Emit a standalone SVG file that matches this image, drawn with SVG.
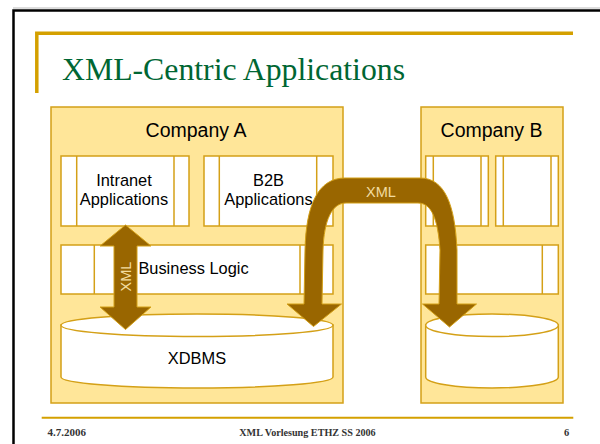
<svg xmlns="http://www.w3.org/2000/svg" width="600" height="444" viewBox="0 0 600 444">
<style>
.box{fill:#FFE699;stroke:#D4A017;stroke-width:1.5}
.pan{fill:#FFFFFF;stroke:#D4A017;stroke-width:1.5}
.ln{stroke:#D4A017;stroke-width:1.5;fill:none}
.lbl{font-family:"Liberation Sans",Arial,sans-serif;font-size:16.4px;fill:#000;text-anchor:middle}
.co{font-family:"Liberation Sans",Arial,sans-serif;font-size:19.5px;fill:#000;text-anchor:middle}
.arr{fill:#996600;stroke:#D4A017;stroke-width:1}
.al{font-family:"Liberation Sans",Arial,sans-serif;font-size:14.5px;fill:#F2DCA0;text-anchor:middle}
.ft{font-family:"Liberation Serif","Times New Roman",serif;font-size:10.5px;font-weight:bold;fill:#333}
</style>
<rect width="600" height="444" fill="#FFFFFF"/>
<g id="frame">
<line x1="13" y1="8" x2="600" y2="8" stroke="#BBBBBB" stroke-width="1"/>
<rect x="13.5" y="10.5" width="700" height="500" fill="none" stroke="#000" stroke-width="2.5"/>
<polyline points="36.8,93 36.8,33.2 573,33.2" fill="none" stroke="#D4A000" stroke-width="3.5"/>
<text x="62" y="80" font-family="'Liberation Serif','Times New Roman',serif" font-size="32" fill="#006633" textLength="343" lengthAdjust="spacingAndGlyphs">XML-Centric Applications</text>
<line x1="41.7" y1="417.7" x2="573.3" y2="417.7" stroke="#D4A000" stroke-width="2"/>
<text class="ft" x="47.5" y="436" textLength="38.5" lengthAdjust="spacingAndGlyphs">4.7.2006</text>
<text class="ft" x="239.3" y="436" textLength="136.4" lengthAdjust="spacingAndGlyphs">XML Vorlesung ETHZ SS 2006</text>
<text class="ft" x="564" y="436">6</text>
</g>
<g id="companyA">
<rect class="box" x="51" y="107" width="292" height="296"/>
<text class="co" x="196" y="137">Company A</text>
</g>
<g id="intranet">
<rect class="pan" x="61" y="156" width="128" height="70"/>
<line class="ln" x1="76.7" y1="156" x2="76.7" y2="226"/>
<line class="ln" x1="174" y1="156" x2="174" y2="226"/>
<text class="lbl" x="124" y="186">Intranet</text>
<text class="lbl" x="124" y="205">Applications</text>
</g>
<g id="b2b">
<rect class="pan" x="204" y="156" width="129" height="70"/>
<line class="ln" x1="219.3" y1="156" x2="219.3" y2="226"/>
<line class="ln" x1="316.7" y1="156" x2="316.7" y2="226"/>
<text class="lbl" x="268.5" y="186">B2B</text>
<text class="lbl" x="268.5" y="205">Applications</text>
</g>
<g id="businessLogic">
<rect class="pan" x="61" y="245" width="272" height="49"/>
<line class="ln" x1="94.3" y1="245" x2="94.3" y2="294"/>
<line class="ln" x1="300" y1="245" x2="300" y2="294"/>
<text class="lbl" x="193.5" y="274.3">Business Logic</text>
</g>
<g id="xdbms">
<path class="pan" d="M61,325 L61,377 A136,11 0 0 0 333,377 L333,325 Z"/>
<ellipse class="pan" cx="197" cy="325.3" rx="136" ry="11.3"/>
<text class="lbl" x="197" y="364">XDBMS</text>
</g>
<g id="companyB">
<rect class="box" x="421" y="107" width="142" height="296"/>
<text class="co" x="491.5" y="137">Company B</text>
</g>
<g id="bApp1">
<rect class="pan" x="425.7" y="156" width="62.6" height="70"/>
<line class="ln" x1="433.3" y1="156" x2="433.3" y2="226"/>
<line class="ln" x1="481" y1="156" x2="481" y2="226"/>
</g>
<g id="bApp2">
<rect class="pan" x="495.7" y="156" width="62.6" height="70"/>
<line class="ln" x1="503.3" y1="156" x2="503.3" y2="226"/>
<line class="ln" x1="551" y1="156" x2="551" y2="226"/>
</g>
<g id="bLogic">
<rect class="pan" x="425.7" y="245" width="132.6" height="49"/>
<line class="ln" x1="542.3" y1="245" x2="542.3" y2="294"/>
</g>
<g id="bDb">
<path class="pan" d="M425.7,325 L425.7,377 A66.3,11 0 0 0 558.3,377 L558.3,325 Z"/>
<ellipse class="pan" cx="492" cy="325.3" rx="66.3" ry="11.3"/>
</g>
<g id="connectors">
<path class="arr" d="M125.5,225 L151,246 L137,246 L137,307 L151,307 L125.5,329.5 L100,307 L114,307 L114,246 L100,246 Z"/>
<text class="al" transform="translate(130.8,276.5) rotate(-90)" x="0" y="0">XML</text>
<path class="arr" d="M304,304 L305,250 C306,205 318,178 345,178 L420,178 C445,178 455,205 457,250 L457,304 L476.5,304 L449.5,327 L422.5,304 L439,304 L440,250 C438,220 432,203 418,203 L346,203 C332,203 324,220 323,250 L322,304 L341.5,304 L313.5,326.5 L287,304 Z"/>
<text class="al" x="381" y="197">XML</text>
</g>
</svg>
